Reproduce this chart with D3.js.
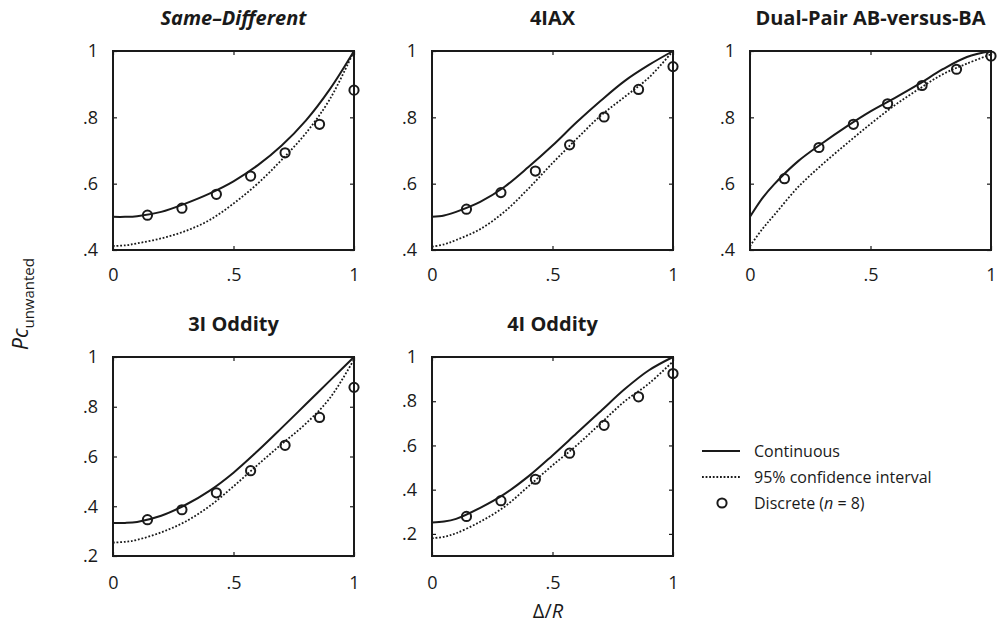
<!DOCTYPE html>
<html>
<head>
<meta charset="utf-8">
<script src="https://cdn.jsdelivr.net/npm/d3@7"></script>
<style>
  body { margin: 0; background: #fff; }
  svg { display: block; font-family: "Open Sans", sans-serif; }
</style>
</head>
<body>
<script>
const xGrid = [0, 0.05, 0.1, 0.2, 0.3, 0.4, 0.5, 0.6, 0.7, 0.8, 0.9, 1];
// discrete (n = 8) points
const discreteX = [0.143, 0.286, 0.429, 0.571, 0.714, 0.857, 1];

const titles = ["Same\u2013Different", "4IAX", "Dual-Pair AB-versus-BA", "3I Oddity", "4I Oddity"];

const sdContinuous = [0.500, 0.500, 0.502, 0.515, 0.540, 0.570, 0.607, 0.655, 0.715, 0.790, 0.885, 1.000];
const sdCI         = [0.412, 0.414, 0.420, 0.435, 0.457, 0.490, 0.540, 0.600, 0.672, 0.752, 0.855, 1.000];
const sdDiscrete   = [0.505, 0.526, 0.568, 0.623, 0.693, 0.779, 0.882];

const iaxContinuous = [0.500, 0.504, 0.515, 0.545, 0.590, 0.650, 0.715, 0.785, 0.850, 0.910, 0.958, 1.000];
const iaxCI         = [0.410, 0.417, 0.430, 0.463, 0.515, 0.585, 0.662, 0.735, 0.805, 0.862, 0.920, 1.000];
const iaxDiscrete   = [0.523, 0.573, 0.638, 0.717, 0.801, 0.884, 0.953];

const dpContinuous = [0.500, 0.555, 0.598, 0.668, 0.722, 0.772, 0.818, 0.858, 0.900, 0.945, 0.982, 1.000];
const dpCI         = [0.412, 0.462, 0.505, 0.590, 0.658, 0.720, 0.780, 0.836, 0.885, 0.930, 0.962, 0.990];
const dpDiscrete   = [0.615, 0.709, 0.779, 0.841, 0.896, 0.945, 0.985];

const odd3Continuous = [0.333, 0.333, 0.337, 0.362, 0.405, 0.462, 0.535, 0.622, 0.715, 0.810, 0.905, 1.000];
const odd3CI         = [0.254, 0.257, 0.265, 0.295, 0.338, 0.400, 0.480, 0.566, 0.650, 0.732, 0.835, 0.990];
const odd3Discrete   = [0.346, 0.386, 0.454, 0.543, 0.645, 0.757, 0.878];

const odd4Continuous = [0.252, 0.256, 0.268, 0.318, 0.380, 0.460, 0.555, 0.655, 0.755, 0.855, 0.940, 1.000];
const odd4CI         = [0.180, 0.187, 0.203, 0.255, 0.322, 0.415, 0.510, 0.600, 0.700, 0.800, 0.880, 0.980];
const odd4Discrete   = [0.279, 0.350, 0.447, 0.565, 0.691, 0.820, 0.925];

const xTicks = [0, 0.5, 1];
const yTicksTop = [0.4, 0.6, 0.8, 1];
const yTicksBottom = [0.2, 0.4, 0.6, 0.8, 1];
const yMins = [0.4, 0.4, 0.4, 0.2, 0.1];

const legendLabels = ["Continuous", "95% confidence interval", "Discrete ("];

const width = 998, height = 627;
const colX = [113, 432, 750];
const rowY = [51, 357];
const panelW = 241, panelH = 199;
const ink = "#1a1a1a";

const panels = [
  {title: titles[0], italic: true, cont: sdContinuous, ci: sdCI, disc: sdDiscrete, yTicks: yTicksTop, yMin: yMins[0], col: 0, row: 0},
  {title: titles[1], cont: iaxContinuous, ci: iaxCI, disc: iaxDiscrete, yTicks: yTicksTop, yMin: yMins[1], col: 1, row: 0},
  {title: titles[2], cont: dpContinuous, ci: dpCI, disc: dpDiscrete, yTicks: yTicksTop, yMin: yMins[2], col: 2, row: 0},
  {title: titles[3], cont: odd3Continuous, ci: odd3CI, disc: odd3Discrete, yTicks: yTicksBottom, yMin: yMins[3], col: 0, row: 1},
  {title: titles[4], cont: odd4Continuous, ci: odd4CI, disc: odd4Discrete, yTicks: yTicksBottom, yMin: yMins[4], col: 1, row: 1}
];

const fmt = d => d === 0 ? "0" : d === 1 ? "1" : String(d).replace(/^0/, "");

const svg = d3.select("body").append("svg")
  .attr("width", width)
  .attr("height", height);

panels.forEach(p => {
  const x0 = colX[p.col], y0 = rowY[p.row];
  const g = svg.append("g").attr("transform", `translate(${x0},${y0})`);

  const x = d3.scaleLinear().domain([0, 1]).range([0, panelW]);
  const y = d3.scaleLinear().domain([p.yMin, 1]).range([panelH, 0]);

  g.append("text")
    .attr("x", panelW / 2)
    .attr("y", -26)
    .attr("text-anchor", "middle")
    .attr("font-size", 20)
    .attr("font-weight", "bold")
    .attr("font-style", p.italic ? "italic" : null)
    .attr("fill", ink)
    .text(p.title);

  // axes with inward ticks
  const left = g.append("g")
    .call(d3.axisLeft(y).tickValues(p.yTicks).tickFormat(fmt).tickSize(-4).tickPadding(15));
  const bottom = g.append("g").attr("transform", `translate(0,${panelH})`)
    .call(d3.axisBottom(x).tickValues(xTicks).tickFormat(fmt).tickSize(-4).tickPadding(p.row === 0 ? 18 : 20));
  g.append("g")
    .call(d3.axisTop(x).tickValues(xTicks).tickFormat("").tickSize(-4));
  g.append("g").attr("transform", `translate(${panelW},0)`)
    .call(d3.axisRight(y).tickValues(p.yTicks).tickFormat("").tickSize(-4));

  g.selectAll(".domain").remove();
  g.selectAll(".tick line").attr("stroke", ink).attr("stroke-width", 1.2);
  [left, bottom].forEach(a => a.selectAll("text")
    .attr("font-size", 18)
    .attr("font-family", "Open Sans, sans-serif")
    .attr("fill", ink));

  const line = d3.line()
    .x((d, i) => x(xGrid[i]))
    .y(d => y(d))
    .curve(d3.curveCatmullRom.alpha(0.5));

  g.append("path")
    .attr("d", line(p.ci))
    .attr("fill", "none")
    .attr("stroke", ink)
    .attr("stroke-width", 1.8)
    .attr("stroke-dasharray", "1.8,1.8");

  g.append("path")
    .attr("d", line(p.cont))
    .attr("fill", "none")
    .attr("stroke", ink)
    .attr("stroke-width", 2);

  g.append("rect")
    .attr("width", panelW)
    .attr("height", panelH)
    .attr("fill", "none")
    .attr("stroke", ink)
    .attr("stroke-width", 2);

  g.selectAll("circle.disc")
    .data(p.disc)
    .join("circle")
    .attr("class", "disc")
    .attr("cx", (d, i) => x(discreteX[i]))
    .attr("cy", d => y(d))
    .attr("r", 4.6)
    .attr("fill", "none")
    .attr("stroke", ink)
    .attr("stroke-width", 2);
});

// y-axis title
const yTitle = svg.append("text")
  .attr("transform", "translate(28,304) rotate(-90)")
  .attr("text-anchor", "middle")
  .attr("fill", ink);
yTitle.append("tspan").attr("font-size", 21).attr("font-style", "italic").text("Pc");
yTitle.append("tspan").attr("font-size", 15).attr("dy", 6).text("unwanted");

// x-axis title
const xTitle = svg.append("text")
  .attr("x", 548)
  .attr("y", 618)
  .attr("text-anchor", "middle")
  .attr("font-size", 20)
  .attr("fill", ink);
xTitle.append("tspan").text("\u0394/");
xTitle.append("tspan").attr("font-style", "italic").text("R");

// legend
const legend = svg.append("g").attr("transform", "translate(702,451)");
legend.append("line")
  .attr("x1", 0).attr("x2", 38).attr("y1", 0).attr("y2", 0)
  .attr("stroke", ink).attr("stroke-width", 2);
legend.append("line")
  .attr("x1", 0).attr("x2", 38).attr("y1", 26).attr("y2", 26)
  .attr("stroke", ink).attr("stroke-width", 1.8).attr("stroke-dasharray", "1.8,1.8");
legend.append("circle")
  .attr("cx", 20).attr("cy", 52).attr("r", 4.6)
  .attr("fill", "none").attr("stroke", ink).attr("stroke-width", 2);

legendLabels.forEach((t, i) => {
  const tx = legend.append("text")
    .attr("x", 52)
    .attr("y", i * 26)
    .attr("dy", "0.35em")
    .attr("font-size", 16)
    .attr("fill", ink)
    .text(t);
  if (i === 2) {
    tx.append("tspan").attr("font-style", "italic").text("n");
    tx.append("tspan").text(" = 8)");
  }
});
</script>
</body>
</html>
